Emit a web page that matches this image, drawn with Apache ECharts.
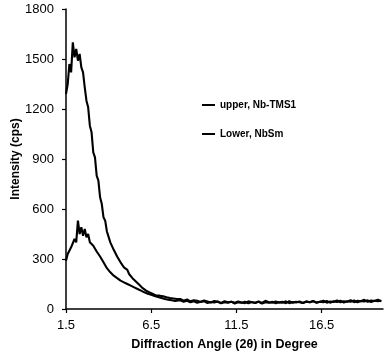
<!DOCTYPE html>
<html>
<head>
<meta charset="utf-8">
<script src="https://cdn.jsdelivr.net/npm/echarts@6/dist/echarts.min.js"></script>
<style>html,body{margin:0;padding:0;background:#fff}#c{width:392px;height:359px}</style>
</head>
<body>
<div id="c"></div>
<script>
const angles = [1.5,1.6,1.7,1.8,1.9,2.0,2.1,2.2,2.3,2.4,2.5,2.6,2.7,2.8,2.9,3.0,3.1,3.2,3.3,3.4,3.5,3.6,3.7,3.8,3.9,4.0,4.1,4.2,4.3,4.4,4.5,4.6,4.7,4.8,4.9,5.0,5.1,5.2,5.3,5.4,5.5,5.6,5.7,5.8,5.9,6.0,6.1,6.2,6.3,6.4,6.5,6.6,6.7,6.8,6.9,7.0,7.1,7.2,7.3,7.4,7.5,7.6,7.7,7.8,7.9,8.0,
 8.2,8.4,8.6,8.8,9.0,9.2,9.4,9.6,9.8,10.0,10.2,10.4,10.6,10.8,11.0,11.2,11.4,11.6,11.8,12.0,12.2,12.4,12.6,12.8,13.0,13.2,13.4,13.6,13.8,14.0,
 14.2,14.4,14.6,14.8,15.0,15.2,15.4,15.6,15.8,16.0,16.2,16.4,16.6,16.8,17.0,17.2,17.4,17.6,17.8,18.0,18.2,18.4,18.6,18.8,19.0,19.2,19.4,19.6,19.8,20.0];
const upperNbTMS1 = [1290,1350,1470,1420,1600,1510,1560,1490,1530,1450,1420,1330,1250,1210,1100,1060,940,910,800,770,670,630,550,530,465,455,400,395,355,350,315,310,280,275,250,245,235,210,205,185,180,165,160,145,150,125,130,110,115,100,105,90,95,80,85,80,88,76,82,70,78,66,74,63,70,60,
 60,50,57,46,53,49,42,51,45,39,48,43,36,47,40,44,37,45,39,35,46,41,38,44,36,49,40,37,45,39,
 43,35,47,38,44,40,36,46,41,48,39,43,50,38,45,42,52,40,47,44,53,41,49,46,55,43,51,48,56,47];
const lowerNbSm = [290,330,320,370,360,420,400,530,450,490,440,480,430,450,400,410,380,380,345,350,315,320,280,285,245,250,220,230,200,210,185,195,170,180,160,170,150,160,140,150,130,140,120,125,110,115,100,105,92,96,85,88,78,82,72,75,66,70,60,64,56,60,52,56,48,52,
 52,44,49,40,46,38,43,47,36,42,39,45,34,41,37,44,33,40,38,43,35,42,36,45,33,41,37,44,34,40,
 38,46,35,42,39,45,36,43,40,47,37,44,41,48,38,46,42,50,39,47,44,51,40,48,45,52,42,49,46,50];
const seriesNames = ['upper, Nb-TMS1', 'Lower, NbSm'];
const xTicks = [1.5, 6.5, 11.5, 16.5];

const pairs = (ys) => angles.map((a, i) => [a, ys[i]]);
const F = 'Liberation Sans, Arial, sans-serif';
const chart = echarts.init(document.getElementById('c'));
chart.setOption({
  animation: false,
  backgroundColor: '#fff',
  grid: { left: 66, right: 9, top: 9, bottom: 50, containLabel: false, outerBoundsMode: 'none' },
  legend: {
    data: seriesNames, orient: 'vertical', left: 202, top: 100, itemWidth: 13, itemHeight: 2,
    icon: 'rect', itemGap: 19, padding: 0,
    textStyle: { fontFamily: F, fontSize: 10, fontWeight: 'bold', color: '#000' }
  },
  xAxis: {
    type: 'value', min: 1.5, max: 20.1,
    name: 'Diffraction Angle (2θ) in Degree', nameLocation: 'middle', nameGap: 29, nameMoveOverlap: false,
    nameTextStyle: { fontFamily: F, fontSize: 12.5, fontWeight: 'bold', color: '#000' },
    axisLine: { show: true, lineStyle: { color: '#000', width: 1.5 } },
    axisTick: { show: true, length: 4, lineStyle: { color: '#000', width: 1.2 }, customValues: xTicks },
    axisLabel: { fontFamily: F, fontSize: 13, color: '#000', margin: 10, customValues: xTicks, formatter: v => v.toFixed(1) },
    splitLine: { show: false }
  },
  yAxis: {
    type: 'value', min: 0, max: 1800, interval: 300,
    name: 'Intensity (cps)', nameLocation: 'middle', nameGap: 44, nameRotate: 90, nameMoveOverlap: false,
    nameTextStyle: { fontFamily: F, fontSize: 12, fontWeight: 'bold', color: '#000' },
    axisLine: { show: true, lineStyle: { color: '#000', width: 1.5 } },
    axisTick: { show: true, length: 4, lineStyle: { color: '#000', width: 1.2 } },
    axisLabel: { fontFamily: F, fontSize: 13, color: '#000', margin: 12, formatter: v => String(v) },
    splitLine: { show: false }
  },
  series: [
    { name: seriesNames[0], type: 'line', data: pairs(upperNbTMS1), symbol: 'none', showSymbol: false,
      lineStyle: { color: '#000', width: 2.1 }, itemStyle: { color: '#000' } },
    { name: seriesNames[1], type: 'line', data: pairs(lowerNbSm), symbol: 'none', showSymbol: false,
      lineStyle: { color: '#000', width: 2.1 }, itemStyle: { color: '#000' } }
  ]
});
</script>
</body>
</html>
